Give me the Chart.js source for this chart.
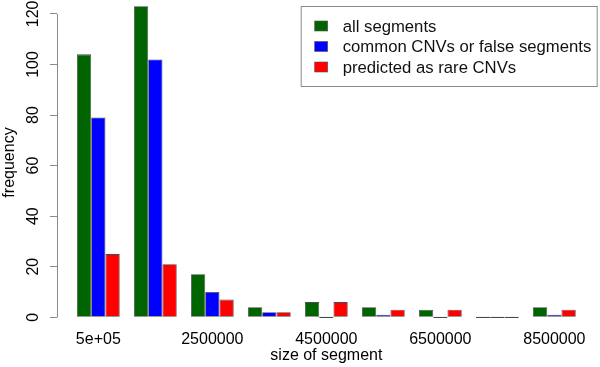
<!DOCTYPE html>
<html>
<head>
<meta charset="utf-8">
<script src="https://cdn.jsdelivr.net/npm/chart.js@4.4.1/dist/chart.umd.min.js"></script>
<style>html,body{margin:0;padding:0;background:#fff;}</style>
</head>
<body>
<canvas id="myChart" width="600" height="367"></canvas>
<script>
var segmentSizes = [500000, 1500000, 2500000, 3500000, 4500000, 5500000, 6500000, 7500000, 8500000];
var allSegments = [104, 123, 17, 4, 6, 4, 3, 0, 4];
var commonOrFalse = [79, 102, 10, 2, 0, 1, 0, 0, 1];
var rareCNVs = [25, 21, 7, 2, 6, 3, 3, 0, 3];
var xTickValues = [500000, 2500000, 4500000, 6500000, 8500000];
var xTickLabels = ['5e+05', '2500000', '4500000', '6500000', '8500000'];
var yTickValues = [0, 20, 40, 60, 80, 100, 120];

var FONT = 'Liberation Sans, Arial, Helvetica, sans-serif';
var AXIS_GREY = '#8a8a8a';

function points(values) {
    return segmentSizes.map(function (x, i) { return {x: x, y: values[i]}; });
}

// R-style y axis line: only from the first to the last tick
var axisLine = {
    id: 'axisLine',
    afterDraw: function (chart) {
        var ctx = chart.ctx;
        var y = chart.scales.y;
        var x0 = chart.chartArea.left;
        ctx.save();
        ctx.strokeStyle = AXIS_GREY;
        ctx.lineWidth = 1;
        ctx.beginPath();
        ctx.moveTo(x0 + 0.5, y.getPixelForValue(yTickValues[0]));
        ctx.lineTo(x0 + 0.5, y.getPixelForValue(yTickValues[yTickValues.length - 1]));
        ctx.stroke();
        ctx.restore();
    }
};

// boxed legend in the top right corner
var boxLegend = {
    id: 'boxLegend',
    afterDraw: function (chart) {
        var ctx = chart.ctx;
        var area = chart.chartArea;
        var right = area.right + 2;
        var left = right - 297;
        var top = area.top + 6;
        var rowH = 20.5;
        ctx.save();
        ctx.fillStyle = '#fff';
        ctx.fillRect(left, top, right - left, 80);
        ctx.strokeStyle = AXIS_GREY;
        ctx.lineWidth = 1;
        ctx.strokeRect(left + 0.5, top + 0.5, right - left - 1, 80);
        ctx.font = '16.7px ' + FONT;
        ctx.textBaseline = 'middle';
        ctx.textAlign = 'left';
        chart.data.datasets.forEach(function (ds, i) {
            var cy = top + 20 + i * rowH;
            ctx.fillStyle = ds.backgroundColor;
            ctx.fillRect(left + 14, cy - 5, 13, 10);
            ctx.strokeStyle = '#555';
            ctx.lineWidth = 0.6;
            ctx.strokeRect(left + 14, cy - 5, 13, 10);
            ctx.fillStyle = '#111';
            ctx.fillText(ds.label, left + 42, cy + 1);
        });
        ctx.restore();
    }
};

var ctx = document.getElementById('myChart').getContext('2d');
var myChart = new Chart(ctx, {
    type: 'bar',
    data: {
        datasets: [{
            label: 'all segments',
            data: points(allSegments),
            backgroundColor: '#006400'
        }, {
            label: 'common CNVs or false segments',
            data: points(commonOrFalse),
            backgroundColor: '#0000ff'
        }, {
            label: 'predicted as rare CNVs',
            data: points(rareCNVs),
            backgroundColor: '#ff0000'
        }]
    },
    options: {
        responsive: false,
        animation: false,
        devicePixelRatio: 1,
        layout: {padding: {left: 0, right: 4.3, top: 0, bottom: 0}},
        datasets: {
            bar: {
                categoryPercentage: 0.75,
                barPercentage: 1,
                borderWidth: 0.8,
                borderColor: '#4a4a4a',
                borderSkipped: false,
                minBarLength: 1.2
            }
        },
        plugins: {
            legend: {display: false},
            tooltip: {enabled: false}
        },
        scales: {
            x: {
                type: 'linear',
                offset: false,
                min: -225000,
                max: 9225000,
                grid: {display: false, offset: false},
                border: {display: false},
                afterBuildTicks: function (axis) {
                    axis.ticks = xTickValues.map(function (v) { return {value: v}; });
                },
                afterFit: function (axis) {
                    axis.height = 42;
                    axis.paddingLeft = 0;
                    axis.paddingRight = 0;
                },
                ticks: {
                    autoSkip: false,
                    maxRotation: 0,
                    padding: -3.5,
                    color: '#000',
                    font: {family: FONT, size: 16},
                    callback: function (value) {
                        var i = xTickValues.indexOf(value);
                        return i >= 0 ? xTickLabels[i] : '';
                    }
                },
                title: {
                    display: true,
                    text: 'size of segment',
                    color: '#000',
                    padding: {top: 0, bottom: 2},
                    font: {family: FONT, size: 16}
                }
            },
            y: {
                min: -3.05,
                max: 125.5,
                grid: {
                    drawOnChartArea: false,
                    drawTicks: true,
                    tickLength: 7,
                    color: AXIS_GREY
                },
                border: {display: false},
                afterBuildTicks: function (axis) {
                    axis.ticks = yTickValues.map(function (v) { return {value: v}; });
                },
                afterFit: function (axis) {
                    axis.width = 57;
                    axis.paddingTop = 0;
                    axis.paddingBottom = 0;
                },
                ticks: {
                    minRotation: 90,
                    maxRotation: 90,
                    crossAlign: 'center',
                    padding: 3,
                    color: '#000',
                    font: {family: FONT, size: 16}
                },
                title: {
                    display: true,
                    text: 'frequency',
                    color: '#000',
                    padding: {top: 0, bottom: 0},
                    font: {family: FONT, size: 16}
                }
            }
        }
    },
    plugins: [axisLine, boxLegend]
});
</script>
</body>
</html>
